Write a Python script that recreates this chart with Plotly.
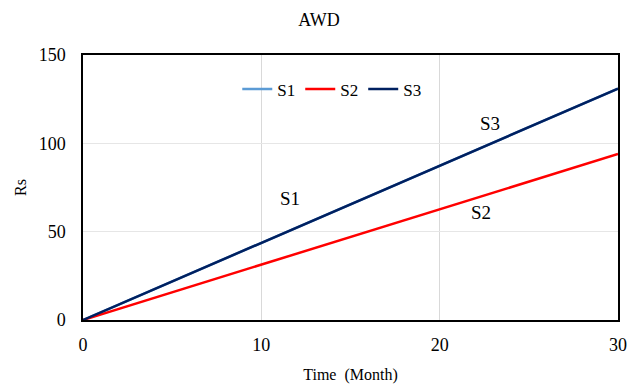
import plotly.graph_objects as go

months = [0, 10, 20, 30]
s1 = [0, 43.7, 87.3, 131.0]
s2 = [0, 31.3, 62.7, 94.0]
s3 = [0, 43.7, 87.3, 131.0]

series_names = ["S1", "S2", "S3"]
label_x = [11.6, 22.3, 22.8]
label_y = [69, 61, 111.5]

FONT = "Liberation Serif"

fig = go.Figure()
fig.add_trace(go.Scatter(x=months, y=s1, name="S1", mode="lines",
                         line=dict(color="#5B9BD5", width=2.5)))
fig.add_trace(go.Scatter(x=months, y=s2, name="S2", mode="lines",
                         line=dict(color="#FF0000", width=2.5)))
fig.add_trace(go.Scatter(x=months, y=s3, name="S3", mode="lines",
                         line=dict(color="#002060", width=2.5)))

for n, lx, ly in zip(series_names, label_x, label_y):
    fig.add_annotation(x=lx, y=ly, text=n, showarrow=False,
                       font=dict(family=FONT, size=19, color="black"))

fig.update_layout(
    width=638, height=388,
    margin=dict(l=83, r=20, t=55, b=68),
    paper_bgcolor="white", plot_bgcolor="white",
    font=dict(family=FONT, size=17, color="black"),
    title=dict(text="AWD", x=0.5, xanchor="center", y=0.948, yanchor="middle",
               font=dict(family=FONT, size=18, color="black")),
    showlegend=True,
    legend=dict(orientation="h", x=0.465, xanchor="center", y=0.87, yanchor="middle",
                bgcolor="rgba(0,0,0,0)", font=dict(family=FONT, size=17),
                itemwidth=30, tracegroupgap=0),
    xaxis=dict(range=[0, 30], tickvals=[0, 10, 20, 30], showgrid=True,
               gridcolor="#D9D9D9", gridwidth=1, showline=True, linecolor="black",
               linewidth=1.5, mirror=True, zeroline=False, ticks="",
               automargin=False, ticklabelstandoff=8,
               tickfont=dict(family=FONT, size=18, color="black"),
               title=dict(text="Time\u00a0 (Month)", standoff=14,
                          font=dict(family=FONT, size=16))),
    yaxis=dict(range=[0, 150], tickvals=[0, 50, 100, 150], showgrid=True,
               gridcolor="#E6E6E6", gridwidth=1, showline=True, linecolor="black",
               linewidth=1.5, mirror=True, zeroline=False, ticks="",
               automargin=False, ticklabelstandoff=12,
               tickfont=dict(family=FONT, size=18, color="black"),
               title=dict(text="Rs", standoff=8,
                          font=dict(family=FONT, size=16))),
)

fig.write_html("out.html", config={"displayModeBar": False},
               post_script="document.body.style.margin='0';document.body.style.overflow='hidden';")
